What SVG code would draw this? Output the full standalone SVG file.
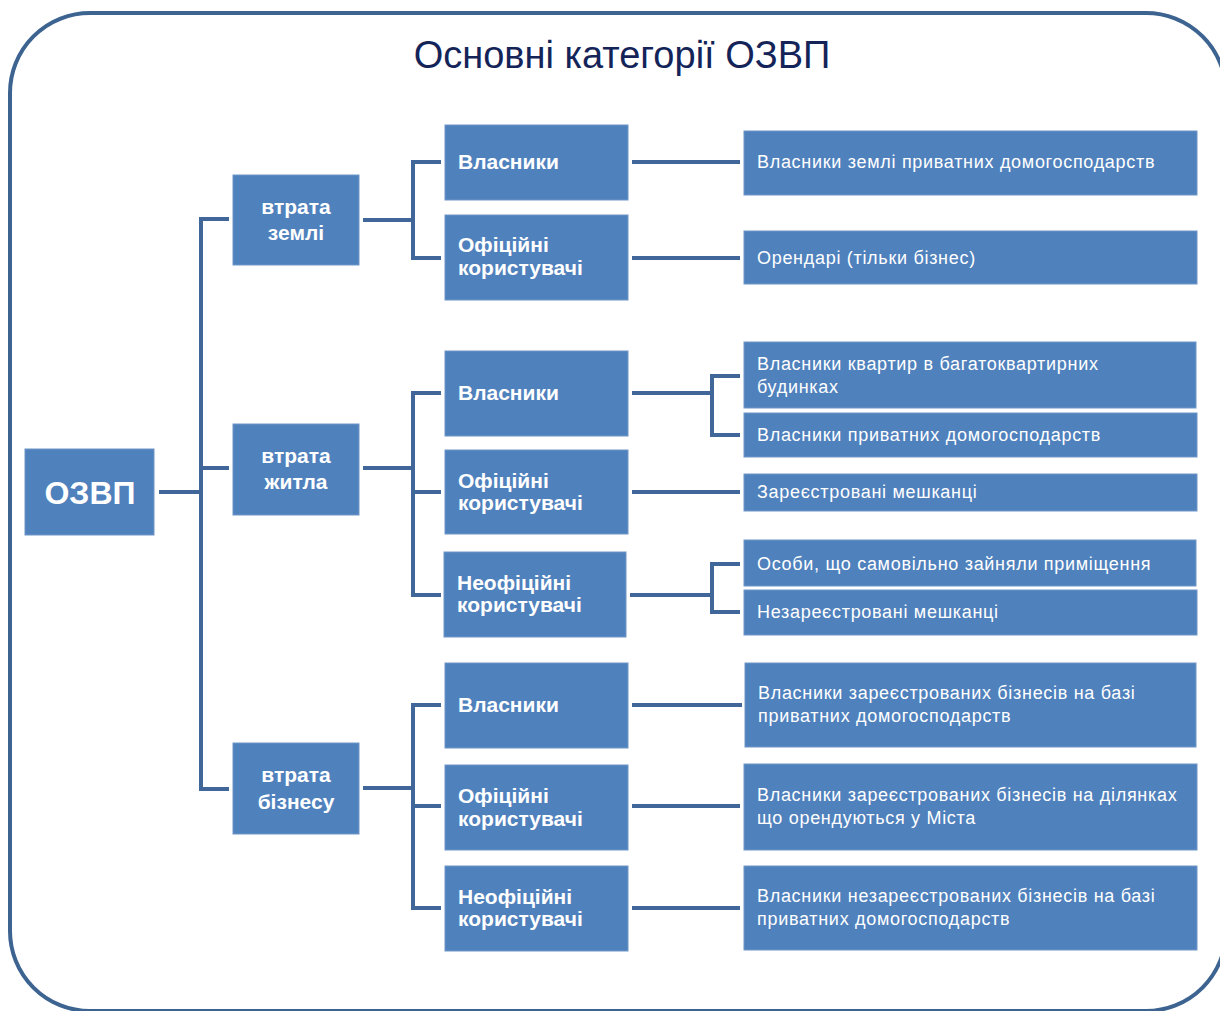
<svg xmlns="http://www.w3.org/2000/svg" width="1220" height="1011" viewBox="0 0 1220 1011">
<style>
.box{fill:#4f81bd;stroke:#6f97c8;stroke-width:1}
.c{fill:none;stroke:#41679a;stroke-width:4}
.t0{font-family:"Liberation Sans",Arial,sans-serif;font-weight:bold;font-size:32px;fill:#fff;text-anchor:middle}
.t1{font-family:"Liberation Sans",Arial,sans-serif;font-weight:bold;font-size:21px;fill:#fff;text-anchor:middle}
.t2{font-family:"Liberation Sans",Arial,sans-serif;font-weight:bold;font-size:21px;fill:#fff}
.t3{font-family:"Liberation Sans",Arial,sans-serif;font-size:18px;letter-spacing:0.7px;fill:#fff}
</style>
<rect x="0" y="0" width="1220" height="1011" fill="#fff"/>
<rect x="10" y="13" width="1216" height="998" rx="80" ry="80" fill="none" stroke="#3d6491" stroke-width="4"/>
<text x="622" y="68" font-family="'Liberation Sans',Arial,sans-serif" font-size="38" fill="#142459" text-anchor="middle">Основні категорії ОЗВП</text>
<g id="connectors">
<path class="c" d="M159 492H201M229 219H201V789H229M201 468H229"/>
<path class="c" d="M363 220H413M441 162H413V258H441"/>
<path class="c" d="M363 468H413M441 393H413V595H441M413 492H441"/>
<path class="c" d="M363 788H413M441 705H413V908H441M413 806H441"/>
<path class="c" d="M632 162H740M632 258H740"/>
<path class="c" d="M632 393H712M740 376H712V435H740"/>
<path class="c" d="M632 492H740"/>
<path class="c" d="M630 595H712M740 564H712V612H740"/>
<path class="c" d="M632 705H742M632 806H740M632 908H740"/>
</g>
<g id="n-ozvp"><rect class="box" x="25" y="449" width="129" height="86"/><text class="t0" x="90" y="504">ОЗВП</text></g>
<g id="n-zemli"><rect class="box" x="233" y="175" width="126" height="90"/><text class="t1" x="296" y="214">втрата</text><text class="t1" x="296" y="240">землі</text></g>
<g id="n-zhytla"><rect class="box" x="233" y="424" width="126" height="91"/><text class="t1" x="296" y="463">втрата</text><text class="t1" x="296" y="489">житла</text></g>
<g id="n-biznesu"><rect class="box" x="233" y="743" width="126" height="91"/><text class="t1" x="296" y="782">втрата</text><text class="t1" x="296" y="809">бізнесу</text></g>
<g id="n-z-vl"><rect class="box" x="445" y="125" width="183" height="75"/><text class="t2" x="458" y="169">Власники</text></g>
<g id="n-z-of"><rect class="box" x="445" y="215" width="183" height="85"/><text class="t2" x="458" y="252">Офіційні</text><text class="t2" x="458" y="275">користувачі</text></g>
<g id="n-h-vl"><rect class="box" x="445" y="351" width="183" height="85"/><text class="t2" x="458" y="400">Власники</text></g>
<g id="n-h-of"><rect class="box" x="445" y="450" width="183" height="84"/><text class="t2" x="458" y="488">Офіційні</text><text class="t2" x="458" y="510">користувачі</text></g>
<g id="n-h-nof"><rect class="box" x="444" y="552" width="182" height="85"/><text class="t2" x="457" y="590">Неофіційні</text><text class="t2" x="457" y="612">користувачі</text></g>
<g id="n-b-vl"><rect class="box" x="445" y="663" width="183" height="85"/><text class="t2" x="458" y="712">Власники</text></g>
<g id="n-b-of"><rect class="box" x="445" y="765" width="183" height="85"/><text class="t2" x="458" y="803">Офіційні</text><text class="t2" x="458" y="826">користувачі</text></g>
<g id="n-b-nof"><rect class="box" x="445" y="866" width="183" height="85"/><text class="t2" x="458" y="904">Неофіційні</text><text class="t2" x="458" y="926">користувачі</text></g>
<g id="l-1"><rect class="box" x="744" y="131" width="453" height="64"/><text class="t3" x="757" y="168">Власники землі приватних домогосподарств</text></g>
<g id="l-2"><rect class="box" x="744" y="231" width="453" height="53"/><text class="t3" x="757" y="264">Орендарі (тільки бізнес)</text></g>
<g id="l-3"><rect class="box" x="744" y="342" width="452" height="66"/><text class="t3" x="757" y="370">Власники квартир в багатоквартирних</text><text class="t3" x="757" y="393">будинках</text></g>
<g id="l-4"><rect class="box" x="744" y="413" width="453" height="44"/><text class="t3" x="757" y="441">Власники приватних домогосподарств</text></g>
<g id="l-5"><rect class="box" x="744" y="474" width="453" height="37"/><text class="t3" x="757" y="498">Зареєстровані мешканці</text></g>
<g id="l-6"><rect class="box" x="744" y="540" width="452" height="46"/><text class="t3" x="757" y="570">Особи, що самовільно зайняли приміщення</text></g>
<g id="l-7"><rect class="box" x="744" y="590" width="453" height="45"/><text class="t3" x="757" y="618">Незареєстровані мешканці</text></g>
<g id="l-8"><rect class="box" x="745" y="663" width="451" height="84"/><text class="t3" x="758" y="699">Власники зареєстрованих бізнесів на базі</text><text class="t3" x="758" y="722">приватних домогосподарств</text></g>
<g id="l-9"><rect class="box" x="744" y="764" width="453" height="86"/><text class="t3" x="757" y="801">Власники зареєстрованих бізнесів на ділянках</text><text class="t3" x="757" y="824">що орендуються у Міста</text></g>
<g id="l-10"><rect class="box" x="744" y="866" width="453" height="84"/><text class="t3" x="757" y="902">Власники незареєстрованих бізнесів на базі</text><text class="t3" x="757" y="925">приватних домогосподарств</text></g>
</svg>
